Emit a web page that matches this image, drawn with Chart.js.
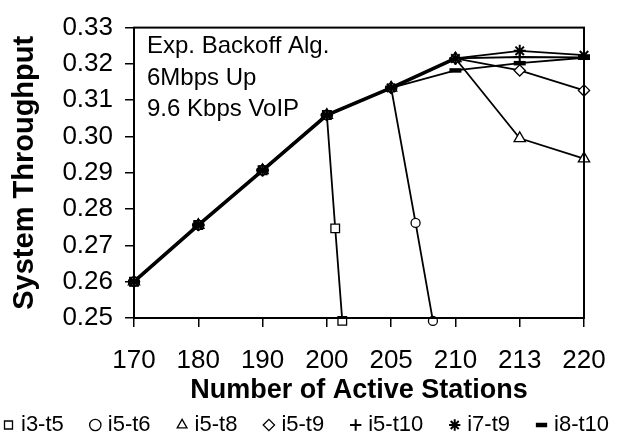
<!DOCTYPE html>
<html><head><meta charset="utf-8">
<script src="https://cdn.jsdelivr.net/npm/chart.js@4/dist/chart.umd.min.js"></script>
<style>html,body{margin:0;padding:0;background:#fff;overflow:hidden}</style>
</head><body>
<canvas id="c" width="629" height="434"></canvas>
<script>
// ---- data ----
const categories = ['170','180','190','200','205','210','213','220'];
const yTickValues = [0.25,0.26,0.27,0.28,0.29,0.30,0.31,0.32,0.33];
const xFull = [0,1,2,3,4,5,6,7];           // positions of the category labels
const i3t5X = [0,1,2,3,3.13,3.24];
const i3t5Y = [0.2600,0.2756,0.2907,0.3059,0.2747,0.2492];
const i5t6X = [0,1,2,3,4,4.38,4.65];
const i5t6Y = [0.2600,0.2756,0.2907,0.3059,0.3134,0.2762,0.2492];
const i5t8Y = [0.2600,0.2756,0.2907,0.3059,0.3134,0.3215,0.2995,0.2939];
const i5t9Y = [0.2600,0.2756,0.2907,0.3059,0.3134,0.3215,0.3182,0.3127];
const i5t10Y = [0.2600,0.2756,0.2907,0.3059,0.3134,0.3215,0.3219,0.3218];
const i7t9Y = [0.2600,0.2756,0.2907,0.3059,0.3134,0.3215,0.3236,0.3224];
const i8t10Y = [0.2600,0.2756,0.2907,0.3059,0.3134,0.3182,0.3202,0.3217];
const seriesNames = ['i3-t5','i5-t6','i5-t8','i5-t9','i5-t10','i7-t9','i8-t10'];
const noteLines = ['Exp. Backoff Alg.','6Mbps Up','9.6 Kbps VoIP'];

const FONT = "'Liberation Sans', Arial, Helvetica, sans-serif";
const pts = (xs, ys) => xs.map((x, i) => ({x: x, y: ys[i]}));

const markerDefs = [
  {style:'rect', r:6.1},
  {style:'circle', r:4.5},
  {style:'triangle', r:6.5},
  {style:'rectRot', r:5.6},
  {style:'cross', r:6, bw:2},
  {style:'star', r:6, bw:2},
  {style:'line', r:6, bw:4.5}
];
const seriesData = [
  pts(i3t5X, i3t5Y), pts(i5t6X, i5t6Y), pts(xFull, i5t8Y), pts(xFull, i5t9Y),
  pts(xFull, i5t10Y), pts(xFull, i7t9Y), pts(xFull, i8t10Y)
];

const datasets = seriesNames.map((name, i) => {
  const ds = {
    label: name,
    data: seriesData[i],
    borderColor: '#000',
    backgroundColor: '#fff',
    borderWidth: 1.8,
    pointStyle: markerDefs[i].style,
    pointRadius: markerDefs[i].r,
    pointBorderWidth: markerDefs[i].bw || 1.3,
    pointBackgroundColor: '#fff',
    pointBorderColor: '#000',
    tension: 0,
    clip: false,
    order: seriesNames.length - i
  };
  // the shared part of all curves looks heavier in the original (overlapping lines)
  if (name === 'i5-t8') {
    ds.segment = { borderWidth: c => (c.p1DataIndex <= 5 ? 3.6 : 1.8) };
  }
  return ds;
});

const framePlugin = {
  id: 'frame',
  beforeDraw(chart) {
    const ctx = chart.ctx;
    ctx.save(); ctx.fillStyle = '#fff'; ctx.fillRect(0, 0, chart.width, chart.height); ctx.restore();
  },
  afterLayout(chart) {
    const lg = chart.legend;
    if (lg) { lg.top = 384; lg.left = -23; lg.right = 900; }
  },
  afterDraw(chart) {
    const ctx = chart.ctx, a = chart.chartArea;
    ctx.save();
    ctx.strokeStyle = '#000'; ctx.lineWidth = 2;
    ctx.strokeRect(a.left, a.top, a.right - a.left, a.bottom - a.top);
    ctx.fillStyle = '#000';
    ctx.font = '24px ' + FONT;
    ctx.textBaseline = 'alphabetic';
    noteLines.forEach((t, k) => ctx.fillText(t, 147, 53 + k * 31.5));
    ctx.restore();
  }
};

new Chart(document.getElementById('c'), {
  type: 'line',
  data: { datasets },
  options: {
    responsive: false,
    animation: false,
    devicePixelRatio: 1,
    layout: { padding: { top: 22, right: 0, left: 0, bottom: 0 } },
    scales: {
      x: {
        type: 'linear', min: 0, max: 7,
        afterBuildTicks: s => { s.ticks = categories.map((_, i) => ({ value: i })); },
        afterFit: s => { s.height = 89; },
        ticks: { callback: v => categories[v], font: { size: 26, family: FONT }, color: '#000', padding: 18, maxRotation: 0, autoSkip: false },
        grid: { drawOnChartArea: false, drawTicks: true, tickLength: 9, color: '#000', lineWidth: 1.5 },
        border: { color: '#000', width: 2 },
        title: { display: true, text: 'Number of Active Stations', font: { size: 27, weight: 'bold', family: FONT }, color: '#000', padding: { top: 0, bottom: 0 } }
      },
      y: {
        type: 'linear', min: 0.25, max: 0.33,
        afterBuildTicks: s => { s.ticks = yTickValues.map(v => ({ value: v })); },
        afterFit: s => { s.width = 134; },
        ticks: { callback: v => v.toFixed(2), font: { size: 26, family: FONT }, color: '#000', padding: 12 },
        grid: { drawOnChartArea: false, drawTicks: true, tickLength: 9, color: '#000', lineWidth: 1.5 },
        border: { color: '#000', width: 2 },
        title: { display: true, text: 'System Throughput', font: { size: 29, weight: 'bold', family: FONT }, color: '#000', padding: { top: 8, bottom: 0 } }
      },
      yRight: {
        type: 'linear', position: 'right', display: true, min: 0, max: 1,
        afterFit: s => { s.width = 45; },
        ticks: { display: false },
        grid: { display: false, drawTicks: false },
        border: { display: false }
      }
    },
    plugins: {
      legend: {
        position: 'bottom', align: 'start', maxHeight: 27,
        labels: {
          usePointStyle: true, boxWidth: 3, boxHeight: 8, padding: 30,
          font: { size: 22, family: FONT }, color: '#000',
          sort: (a, b) => a.datasetIndex - b.datasetIndex
        }
      },
      tooltip: { enabled: false }
    }
  },
  plugins: [framePlugin]
});
</script>
</body></html>
